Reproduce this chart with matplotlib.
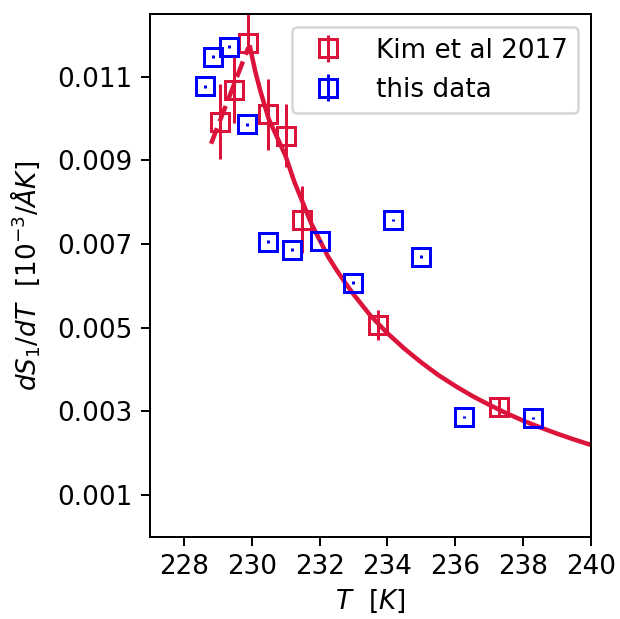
import matplotlib
matplotlib.use("Agg")
import matplotlib.pyplot as plt

# Kim et al 2017
kim_T = [229.07, 229.49, 229.90, 230.47, 231.00, 231.47, 233.73, 237.28]
kim_y = [0.00993, 0.01069, 0.01180, 0.01010, 0.00959, 0.00758, 0.00507, 0.00311]
kim_err_lo = [0.00090, 0.00080, 0.00020, 0.00085, 0.00075, 0.00080, 0.00036, 0.00020]
kim_err_hi = [0.00090, 0.00080, 0.00120, 0.00085, 0.00075, 0.00080, 0.00036, 0.00020]

# this data
this_T = [228.63, 228.87, 229.34, 229.87, 230.47, 231.18, 232.00, 232.99, 234.17, 235.00, 236.27, 238.29]
this_y = [0.01077, 0.01148, 0.01172, 0.00986, 0.00706, 0.00687, 0.00708, 0.00608, 0.00758, 0.00670, 0.00287, 0.00285]
this_err = [0.00003] * len(this_T)

# fit curve above Tc
fit_T = [229.95, 230.1, 230.25, 230.5, 230.75, 231.0, 231.25, 231.5, 231.75, 232.0, 232.25,
         232.5, 232.75, 233.0, 233.5, 234.0, 234.5, 235.0, 235.5, 236.0, 236.5, 237.0,
         237.5, 238.0, 238.5, 239.0, 239.5, 240.0]
fit_y = [0.01170, 0.01114, 0.01067, 0.00999, 0.00955, 0.00910, 0.00850, 0.00800, 0.00750, 0.00710, 0.00670,
         0.00638, 0.00608, 0.00580, 0.00529, 0.00487, 0.00450, 0.00417, 0.00387, 0.00361, 0.00337, 0.00316,
         0.00296, 0.00278, 0.00262, 0.00247, 0.00233, 0.00220]

# dashed line below Tc
low_T = [228.80, 229.90]
low_y = [0.00940, 0.01170]

yticks = [0.001, 0.003, 0.005, 0.007, 0.009, 0.011]
xticks = [228, 230, 232, 234, 236, 238, 240]

red = "#DC143C"
blue = "#0000FF"

dpi = 180
fig = plt.figure(figsize=(620 / dpi, 619 / dpi), dpi=dpi)
ax = fig.add_axes([150 / 620, (619 - 537) / 619, 441 / 620, 523 / 619])

ax.plot(fit_T, fit_y, color=red, lw=1.8, zorder=1, solid_joinstyle="round")
ax.plot(low_T, low_y, color=red, lw=1.8, ls="--", zorder=1)

ax.errorbar(kim_T, kim_y, yerr=[kim_err_lo, kim_err_hi], fmt="s", ms=7, mfc="none",
            mec=red, mew=1.2, ecolor=red, elinewidth=1.2, color=red, label="Kim et al 2017", zorder=2)
ax.errorbar(this_T, this_y, yerr=this_err, fmt="s", ms=7, mfc="none",
            mec=blue, mew=1.2, ecolor=blue, elinewidth=1.2, color=blue, label="this data", zorder=3)

ax.set_xlim(227, 240)
ax.set_ylim(0, 0.0125)
ax.set_xticks(xticks)
ax.set_yticks(yticks)
ax.set_yticklabels([f"{v:.3f}" for v in yticks])
ax.tick_params(labelsize=10.5)
ax.set_xlabel(r"$T\ \ [K]$", fontsize=10.5, labelpad=3)
ax.set_ylabel(r"$dS_1/dT\ \ [10^{-3}/\AA K]$", fontsize=10.5, labelpad=6)
ax.legend(loc="upper right", fontsize=10.5)

fig.savefig("out.png", dpi=dpi)
